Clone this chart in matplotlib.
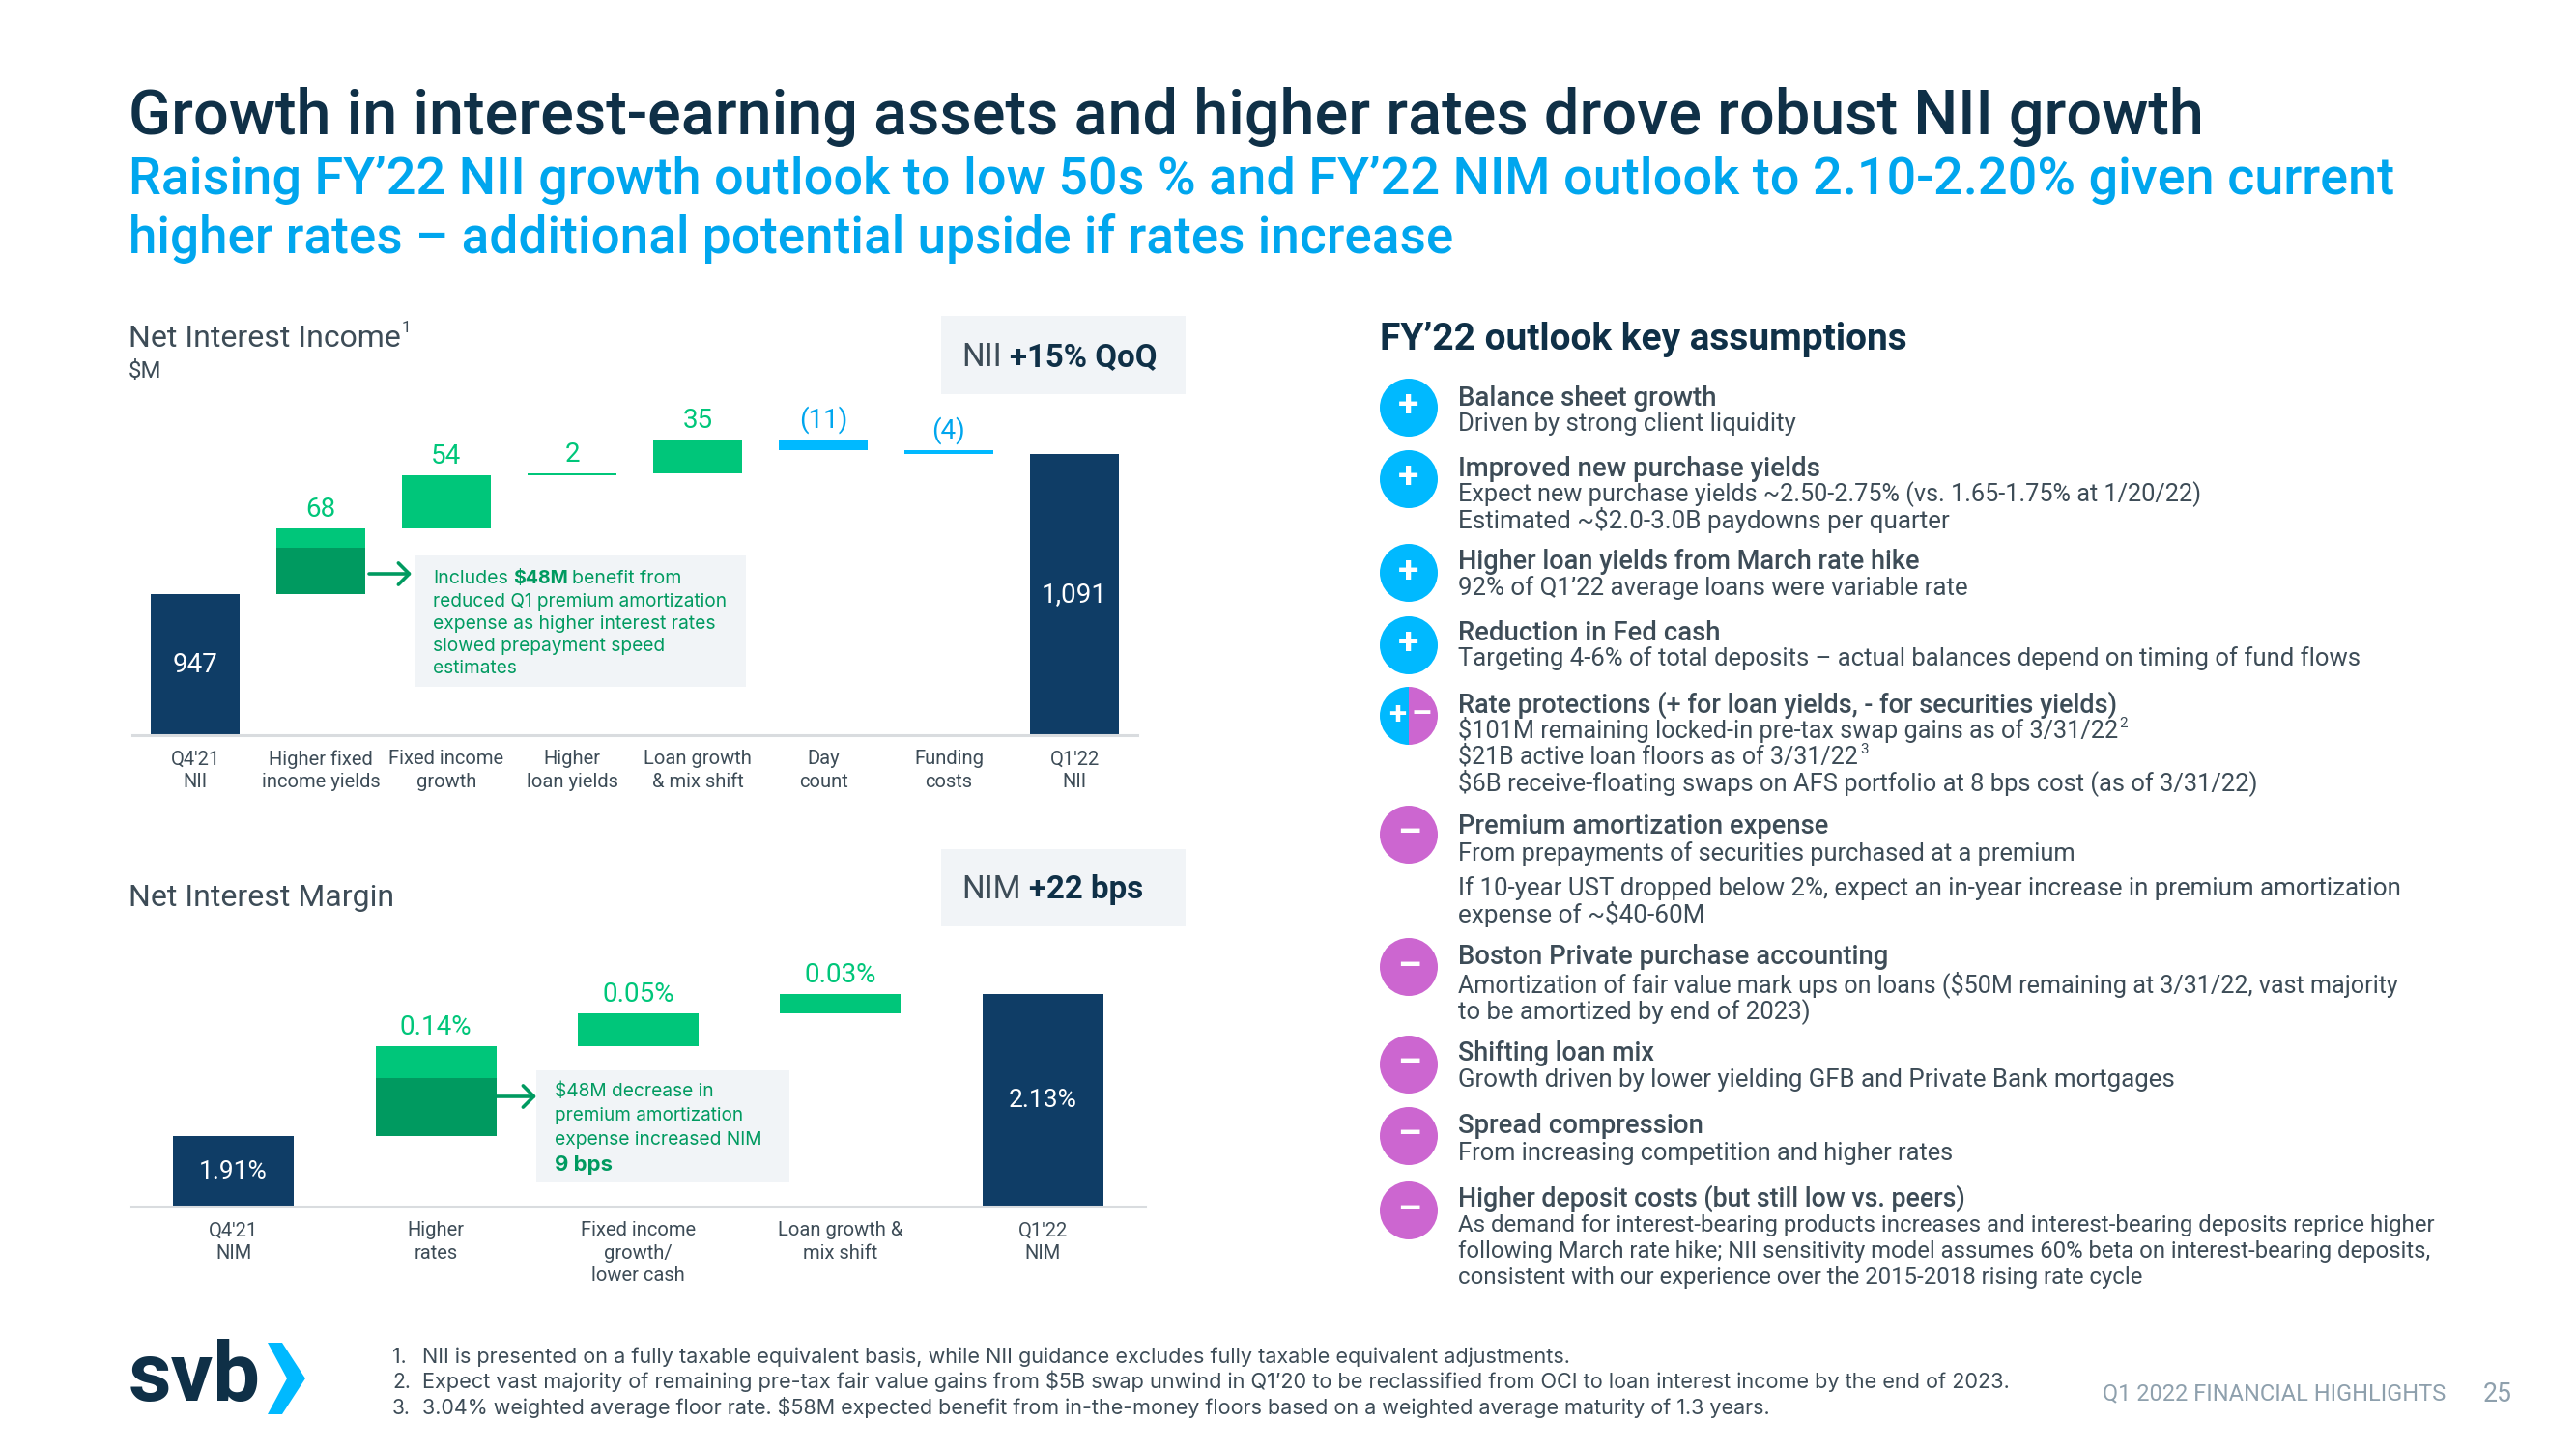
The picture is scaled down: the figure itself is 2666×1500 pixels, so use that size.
import matplotlib
matplotlib.use('Agg')
import matplotlib.pyplot as plt
from matplotlib.patches import Rectangle, Circle, Wedge, Polygon

plt.rcParams['font.family'] = ['Roboto', 'DejaVu Sans']

# Data
nii_cats = ["Q4'21\nNII", "Higher fixed\nincome yields", "Fixed income\ngrowth", "Higher\nloan yields",
            "Loan growth\n& mix shift", "Day\ncount", "Funding\ncosts", "Q1'22\nNII"]
nii_start = 947
nii_end = 1091
nii_steps = [68, 54, 2, 35, -11, -4]
nii_step_labels = ['68', '54', '2', '35', '(11)', '(4)']
nii_amort = 48

nim_cats = ["Q4'21\nNIM", "Higher\nrates", "Fixed income\ngrowth/\nlower cash", "Loan growth &\nmix shift", "Q1'22\nNIM"]
nim_start = 1.91
nim_end = 2.13
nim_steps = [0.14, 0.05, 0.03]
nim_amort = 0.09

# Text of the right panel: (text, is heading)
panel_lines = [
    ("Balance sheet growth", True),
    ("Driven by strong client liquidity", False),
    ("Improved new purchase yields", True),
    ("Expect new purchase yields ~2.50-2.75% (vs. 1.65-1.75% at 1/20/22)", False),
    ("Estimated ~$2.0-3.0B paydowns per quarter", False),
    ("Higher loan yields from March rate hike", True),
    ("92% of Q1\u201922 average loans were variable rate", False),
    ("Reduction in Fed cash", True),
    ("Targeting 4-6% of total deposits \u2013 actual balances depend on timing of fund flows", False),
    ("Rate protections (+ for loan yields, - for securities yields)", True),
    ("$101M remaining locked-in pre-tax swap gains as of 3/31/22", False),
    ("$21B active loan floors as of 3/31/22", False),
    ("$6B receive-floating swaps on AFS portfolio at 8 bps cost (as of 3/31/22)", False),
    ("Premium amortization expense", True),
    ("From prepayments of securities purchased at a premium", False),
    ("If 10-year UST dropped below 2%, expect an in-year increase in premium amortization", False),
    ("expense of ~$40-60M", False),
    ("Boston Private purchase accounting", True),
    ("Amortization of fair value mark ups on loans ($50M remaining at 3/31/22, vast majority", False),
    ("to be amortized by end of 2023)", False),
    ("Shifting loan mix", True),
    ("Growth driven by lower yielding GFB and Private Bank mortgages", False),
    ("Spread compression", True),
    ("From increasing competition and higher rates", False),
    ("Higher deposit costs (but still low vs. peers)", True),
    ("As demand for interest-bearing products increases and interest-bearing deposits reprice higher", False),
    ("following March rate hike; NII sensitivity model assumes 60% beta on interest-bearing deposits,", False),
    ("consistent with our experience over the 2015-2018 rising rate cycle", False),
]
panel_y = [241, 257, 284, 300, 316, 341, 357, 384, 400, 428, 444, 460, 476, 502, 519, 540, 556,
           581, 599, 615, 640, 656, 684, 701, 729, 745, 761, 777]
panel_right = [1045, 1093, 1108, 1340, 1186, 1168, 1198, 1047, 1434, 1289, 1289, 1131, 1376, 1113, 1265, 1461, 1037,
               1150, 1462, 1102, 1007, 1326, 1038, 1189, 1198, 1481, 1478, 1303]
icon_signs = ['+', '+', '+', '+', '+-', '-', '-', '-', '-', '-']
icon_y = [422, 496, 593, 668, 741, 864, 1001, 1102, 1176, 1253]

footnotes = [
    "NII is presented on a fully taxable equivalent basis, while NII guidance excludes fully taxable equivalent adjustments.",
    "Expect vast majority of remaining pre-tax fair value gains from $5B swap unwind in Q1\u201920 to be reclassified from OCI to loan interest income by the end of 2023.",
    "3.04% weighted average floor rate. $58M expected benefit from in-the-money floors based on a weighted average maturity of 1.3 years.",
]

NAVY = '#0f3d66'
GREEN = '#00c67a'
DGREEN = '#009a60'
CYAN = '#00b9ff'
PURPLE = '#cc66d0'
BOX = '#f1f4f7'
DARK = '#0f3047'
GREY = '#3d4c57'
LINE = '#d9dcdf'

fig = plt.figure(figsize=(26.66, 15), dpi=100, facecolor='white')
W, H = 2666, 1500
bg = fig.add_axes([0, 0, 1, 1], zorder=0)
bg.set_xlim(0, W)
bg.set_ylim(H, 0)
bg.axis('off')
renderer = fig.canvas.get_renderer()


def T(x, y, s, size, color=GREY, weight='normal', right=None, family='Roboto'):
    t = bg.text(x, y, s, fontsize=size * 0.72, color=color, fontweight=weight, ha='left', va='baseline',
                fontfamily=[family, 'DejaVu Sans'])
    if right is not None:
        # twice, hinting makes the width move a little with the size
        for _ in range(2):
            w = t.get_window_extent(renderer).width
            size = size * (right - x) / w
            t.set_fontsize(size * 0.72)
    t.set_y(y + 0.36 * size)
    return t


def runs(x, y, parts, size, family='Roboto'):
    for s, weight, color in parts:
        t = T(x, y, s, size, color=color, weight=weight, family=family)
        x = t.get_window_extent(renderer).x1 + size * 0.25
    return x


def make_axes(x0, x1, ytop, ybase, xlim, ylim):
    ax = fig.add_axes([x0 / W, 1 - ybase / H, (x1 - x0) / W, (ybase - ytop) / H], zorder=1)
    ax.patch.set_alpha(0)
    ax.set_xlim(*xlim)
    ax.set_ylim(*ylim)
    for sp in ['top', 'left', 'right']:
        ax.spines[sp].set_visible(False)
    ax.spines['bottom'].set_color(LINE)
    ax.spines['bottom'].set_linewidth(2.2)
    ax.set_yticks([])
    return ax


arrow = dict(arrowstyle='->,head_width=0.8,head_length=0.8', color=DGREEN, lw=2.6, shrinkA=0, shrinkB=0)

# Titles
T(133, 116, "Growth in interest-earning assets and higher rates drove robust NII growth", 66, DARK, 'medium', right=2280)
T(133, 182, "Raising FY\u201922 NII growth outlook to low 50s % and FY\u201922 NIM outlook to 2.10-2.20% given current", 54, '#00a6ee', 'medium', right=2475)
T(133, 243, "higher rates \u2013 additional potential upside if rates increase", 54, '#00a6ee', 'medium', right=1504)

# NII waterfall
T(133, 347, "Net Interest Income", 32, GREY, right=414)
T(416, 338, "1", 17, GREY)
T(133, 382, "$M", 24, GREY)
bg.add_patch(Rectangle((974, 327), 253, 81, color=BOX, lw=0))
runs(995, 367, [("NII", 'normal', GREY), ("+15% QoQ", 'bold', DARK)], 33)

ax1 = make_axes(137, 1177, 440, 761, (-0.5, 7.5), (803, 1120.5))
bw1 = 0.715
ax1.bar(0, nii_start - 803, bw1, bottom=803, color=NAVY)
ax1.bar(7, nii_end - 803, bw1, bottom=803, color=NAVY)
ax1.text(0, (nii_start + 803) / 2, str(nii_start), color='white', fontsize=20, ha='center', va='center')
ax1.text(7, (nii_end + 803) / 2, '1,091', color='white', fontsize=20, ha='center', va='center')
level = nii_start
for i, (d, lab) in enumerate(zip(nii_steps, nii_step_labels)):
    col = GREEN if d > 0 else CYAN
    ax1.bar(i + 1, abs(d), bw1, bottom=min(level, level + d), color=col)
    top = max(level, level + d)
    ax1.annotate(lab, (i + 1, top), xytext=(0, 6), textcoords='offset pixels', ha='center', va='bottom',
                 color=col if d > 0 else '#00a6ee', fontsize=20)
    level += d
ax1.bar(1, nii_amort, bw1, bottom=nii_start, color=DGREEN)
ax1.set_xticks(range(8))
ax1.set_xticklabels(nii_cats, fontsize=14.5, color=GREY, linespacing=1.3)
ax1.tick_params(axis='x', length=0, pad=11)

bg.add_patch(Rectangle((429, 575), 343, 136, color=BOX, lw=0))
bg.annotate('', xy=(426, 594), xytext=(382, 594), arrowprops=arrow)
runs(448, 597, [("Includes", 'normal', DGREEN), ("$48M", 'bold', DGREEN), ("benefit from", 'normal', DGREEN)], 19.5, family='Inter')
T(448, 621, "reduced Q1 premium amortization", 18, DGREEN, right=752, family='Inter')
T(448, 644, "expense as higher interest rates", 18, DGREEN, right=740, family='Inter')
T(448, 667, "slowed prepayment speed", 18, DGREEN, right=688, family='Inter')
T(448, 690, "estimates", 18, DGREEN, right=535, family='Inter')

# NIM waterfall
T(133, 926, "Net Interest Margin", 32, GREY, right=408)
bg.add_patch(Rectangle((974, 879), 253, 80, color=BOX, lw=0))
runs(995, 918, [("NIM", 'normal', GREY), ("+22 bps", 'bold', DARK)], 33)

ax2 = make_axes(136, 1185, 1000, 1249, (-0.504, 4.504), (1.801, 2.174))
bw2 = 0.597
ax2.bar(0, nim_start - 1.801, bw2, bottom=1.801, color=NAVY)
ax2.bar(4, nim_end - 1.801, bw2, bottom=1.801, color=NAVY)
ax2.text(0, (nim_start + 1.801) / 2, '%.2f%%' % nim_start, color='white', fontsize=19, ha='center', va='center')
ax2.text(4, (nim_end + 1.801) / 2, '%.2f%%' % nim_end, color='white', fontsize=19, ha='center', va='center')
level = nim_start
for i, d in enumerate(nim_steps):
    ax2.bar(i + 1, d, bw2, bottom=level, color=GREEN)
    level += d
    ax2.annotate('%.2f%%' % d, (i + 1, level), xytext=(0, 6), textcoords='offset pixels', ha='center', va='bottom',
                 color=GREEN, fontsize=20)
ax2.bar(1, nim_amort, bw2, bottom=nim_start, color=DGREEN)
ax2.set_xticks(range(5))
ax2.set_xticklabels(nim_cats, fontsize=14.5, color=GREY, linespacing=1.3)
ax2.tick_params(axis='x', length=0, pad=11)

bg.add_patch(Rectangle((555, 1108), 262, 116, color=BOX, lw=0))
bg.annotate('', xy=(555, 1135), xytext=(514, 1135), arrowprops=arrow)
T(574, 1128, "$48M decrease in", 18, DGREEN, right=739, family='Inter')
T(574, 1153, "premium amortization", 18, DGREEN, right=769, family='Inter')
T(574, 1178, "expense increased NIM", 18, DGREEN, right=788, family='Inter')
T(574, 1204, "9 bps", 18, DGREEN, 'bold', right=634, family='Inter')

# Right panel
T(1428, 348, "FY\u201922 outlook key assumptions", 38, DARK, 'bold', right=1976)
for sign, y in zip(icon_signs, icon_y):
    if sign == '+-':
        bg.add_patch(Wedge((1458, y), 30, 90, 270, color=CYAN, lw=0))
        bg.add_patch(Wedge((1458, y), 30, 270, 90, color=PURPLE, lw=0))
        bg.text(1446, y - 1, '+', color='white', fontsize=24, fontweight='bold', ha='center', va='center')
        bg.text(1471, y - 1, '\u2013', color='white', fontsize=24, fontweight='bold', ha='center', va='center')
    else:
        bg.add_patch(Circle((1458, y), 30, color=CYAN if sign == '+' else PURPLE, lw=0))
        bg.text(1458, y - 1, '+' if sign == '+' else '\u2013', color='white', fontsize=28, fontweight='bold', ha='center', va='center')

for (s, head), yy, r in zip(panel_lines, panel_y, panel_right):
    T(1509, yy * 1.7, s, 25, GREY, 'medium' if head else 'normal', right=r * 1.7)
T(2193, 748, "2", 15, GREY)
T(1925, 775, "3", 15, GREY)

# Footer
logo = bg.text(133, 1450, "svb", fontsize=60, fontweight='bold', color=DARK, ha='left', va='baseline')
logo.set_fontsize(60 * 137 / logo.get_window_extent(renderer).width)
bg.add_patch(Polygon([(277, 1390), (292, 1390), (316, 1427), (292, 1464), (277, 1464), (297, 1427)], color=CYAN, lw=0))
fn_y = [1403, 1429, 1456]
fn_right = [1625, 2081, 1833]
for i, (s, y, r) in enumerate(zip(footnotes, fn_y, fn_right)):
    T(406, y, "%d." % (i + 1), 21, GREY, family='Inter')
    T(437, y, s, 21, GREY, right=r, family='Inter')
T(2176, 1441, "Q1 2022 FINANCIAL HIGHLIGHTS", 22, '#8ea0ad', right=2531)
T(2570, 1441, "25", 22, '#8ea0ad', right=2600)

fig.savefig('out.png', dpi=100)
